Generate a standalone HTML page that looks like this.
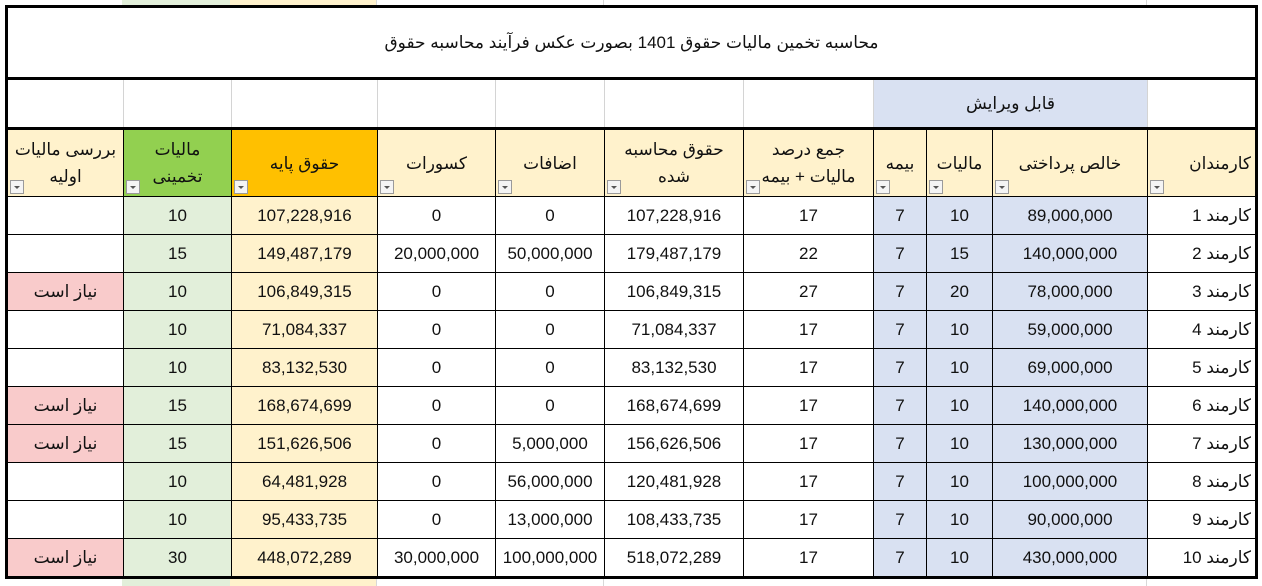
<!DOCTYPE html>
<html><head><meta charset="utf-8">
<style>
html,body{margin:0;padding:0;background:#fff;width:1262px;height:586px;overflow:hidden}
body{font-family:"Liberation Sans","Noto Sans CJK SC","DejaVu Sans",sans-serif;position:relative}
.bgl{position:absolute;top:0;height:586px;border-left:1px solid #d8d8d8}
.cbg{position:absolute}
table{position:absolute;left:5px;top:5px;border-collapse:collapse;table-layout:fixed;width:1250px;background:#fff;border:3px solid #000}
td{border:1px solid #000;padding:0;font-size:17px;text-align:center;color:#111;overflow:hidden;white-space:nowrap}
tr.t td{height:69px;border:3px solid #000;font-size:17px;direction:rtl;text-align:center}
tr.e td{height:47px;border-top:3px solid #000;border-bottom:3px solid #000;border-left:1px solid #d4d4d4;border-right:1px solid #d4d4d4}
tr.h td{height:66px;position:relative;background:#fff2cc;white-space:normal;line-height:27px;direction:rtl;font-size:17px}
tr.d td{height:37px}
tr td:first-child{border-left:3px solid #000}
tr td:last-child{border-right:3px solid #000}
tr.last td{border-bottom:3px solid #000}
.y{background:#fff2cc}.g{background:#e2efda}.b{background:#d9e1f2}.p{background:#f9cbcb}
.hg{background:#92d050!important}.ho{background:#ffc000!important}
.n{text-align:right!important;padding-right:4px!important;direction:rtl}
.f{position:absolute;left:2px;bottom:2px;width:14px;height:14px;border:1px solid #9a9a9a;background:#f4f4f4;box-sizing:border-box}
.f:after{content:"";position:absolute;left:3px;top:5px;border-left:3px solid transparent;border-right:3px solid transparent;border-top:3px solid #555}
</style></head><body>
<div class="bgl" style="left:122px"></div><div class="bgl" style="left:376px"></div><div class="bgl" style="left:603px"></div><div class="bgl" style="left:1146px"></div>
<div class="cbg" style="left:122px;top:0;width:108px;height:586px;background:#e2efda"></div>
<div class="cbg" style="left:230px;top:0;width:146px;height:586px;background:#fff2cc"></div>
<table>
<colgroup><col style="width:117px"><col style="width:108px"><col style="width:146px"><col style="width:118px"><col style="width:109px"><col style="width:139px"><col style="width:130px"><col style="width:53px"><col style="width:66px"><col style="width:155px"><col style="width:109px"></colgroup>
<tr class="t"><td colspan="11">محاسبه تخمین مالیات حقوق 1401 بصورت عکس فرآیند محاسبه حقوق</td></tr>
<tr class="e"><td></td><td></td><td></td><td></td><td></td><td></td><td></td><td colspan="3" class="b" style="direction:rtl">قابل ویرایش</td><td></td></tr>
<tr class="h">
<td>بررسی مالیات<br>اولیه<span class="f"></span></td>
<td class="hg">مالیات<br>تخمینی<span class="f"></span></td>
<td class="ho">حقوق پایه<span class="f"></span></td>
<td>کسورات<span class="f"></span></td>
<td>اضافات<span class="f"></span></td>
<td>حقوق محاسبه<br>شده<span class="f"></span></td>
<td>جمع درصد<br>مالیات + بیمه<span class="f"></span></td>
<td>بیمه<span class="f"></span></td>
<td>مالیات<span class="f"></span></td>
<td>خالص پرداختی<span class="f"></span></td>
<td class="n">کارمندان<span class="f"></span></td>
</tr>
<tr class="d"><td></td><td class="g">10</td><td class="y">107,228,916</td><td>0</td><td>0</td><td>107,228,916</td><td>17</td><td class="b">7</td><td class="b">10</td><td class="b">89,000,000</td><td class="n">کارمند 1</td></tr>
<tr class="d"><td></td><td class="g">15</td><td class="y">149,487,179</td><td>20,000,000</td><td>50,000,000</td><td>179,487,179</td><td>22</td><td class="b">7</td><td class="b">15</td><td class="b">140,000,000</td><td class="n">کارمند 2</td></tr>
<tr class="d"><td class="p" style="direction:rtl">نیاز است</td><td class="g">10</td><td class="y">106,849,315</td><td>0</td><td>0</td><td>106,849,315</td><td>27</td><td class="b">7</td><td class="b">20</td><td class="b">78,000,000</td><td class="n">کارمند 3</td></tr>
<tr class="d"><td></td><td class="g">10</td><td class="y">71,084,337</td><td>0</td><td>0</td><td>71,084,337</td><td>17</td><td class="b">7</td><td class="b">10</td><td class="b">59,000,000</td><td class="n">کارمند 4</td></tr>
<tr class="d"><td></td><td class="g">10</td><td class="y">83,132,530</td><td>0</td><td>0</td><td>83,132,530</td><td>17</td><td class="b">7</td><td class="b">10</td><td class="b">69,000,000</td><td class="n">کارمند 5</td></tr>
<tr class="d"><td class="p" style="direction:rtl">نیاز است</td><td class="g">15</td><td class="y">168,674,699</td><td>0</td><td>0</td><td>168,674,699</td><td>17</td><td class="b">7</td><td class="b">10</td><td class="b">140,000,000</td><td class="n">کارمند 6</td></tr>
<tr class="d"><td class="p" style="direction:rtl">نیاز است</td><td class="g">15</td><td class="y">151,626,506</td><td>0</td><td>5,000,000</td><td>156,626,506</td><td>17</td><td class="b">7</td><td class="b">10</td><td class="b">130,000,000</td><td class="n">کارمند 7</td></tr>
<tr class="d"><td></td><td class="g">10</td><td class="y">64,481,928</td><td>0</td><td>56,000,000</td><td>120,481,928</td><td>17</td><td class="b">7</td><td class="b">10</td><td class="b">100,000,000</td><td class="n">کارمند 8</td></tr>
<tr class="d"><td></td><td class="g">10</td><td class="y">95,433,735</td><td>0</td><td>13,000,000</td><td>108,433,735</td><td>17</td><td class="b">7</td><td class="b">10</td><td class="b">90,000,000</td><td class="n">کارمند 9</td></tr>
<tr class="d last"><td class="p" style="direction:rtl">نیاز است</td><td class="g">30</td><td class="y">448,072,289</td><td>30,000,000</td><td>100,000,000</td><td>518,072,289</td><td>17</td><td class="b">7</td><td class="b">10</td><td class="b">430,000,000</td><td class="n">کارمند 10</td></tr>
</table>
</body></html>
